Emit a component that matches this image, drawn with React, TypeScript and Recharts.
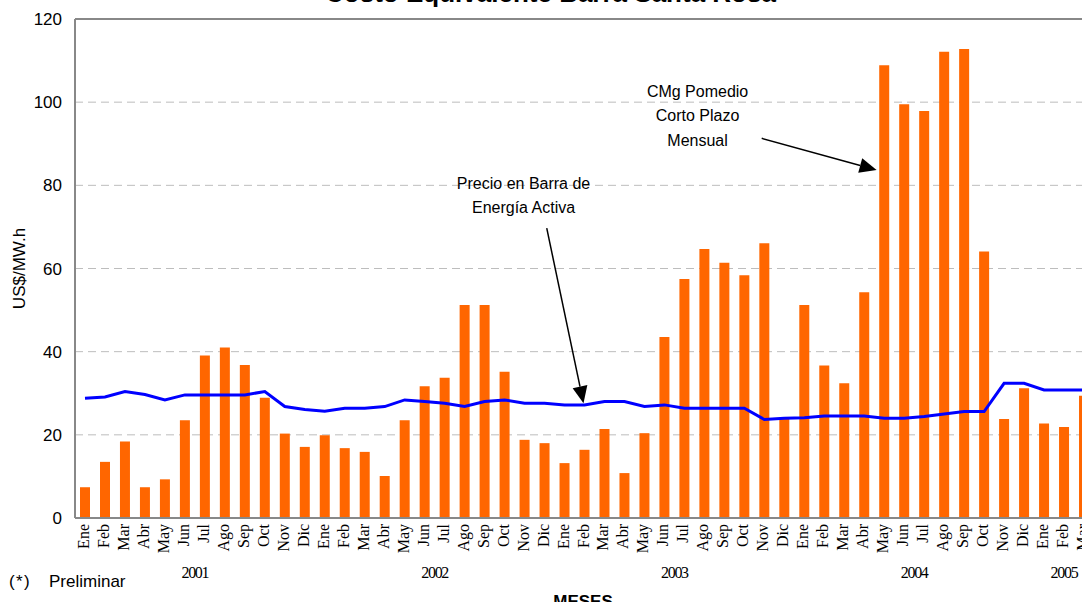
import React from 'react';
import {
  ComposedChart, Bar, Line, XAxis, YAxis, CartesianGrid, ReferenceLine, ReferenceDot,
} from 'recharts';

const months = ['Ene', 'Feb', 'Mar', 'Abr', 'May', 'Jun', 'Jul', 'Ago', 'Sep', 'Oct', 'Nov', 'Dic'];
const years = ['2001', '2002', '2003', '2004', '2005'];
const yearMonthCounts = [12, 12, 12, 12, 3];
const yTicks = [0, 20, 40, 60, 80, 100, 120];

// CMg Pomedio Corto Plazo Mensual (US$/MW.h)
const cmgValues = [
  7.4, 13.5, 18.4, 7.4, 9.3, 23.5, 39.1, 41.0, 36.8, 28.9, 20.3, 17.1,
  19.9, 16.8, 15.9, 10.1, 23.5, 31.7, 33.7, 51.2, 51.2, 35.2, 18.8, 18.0,
  13.2, 16.4, 21.4, 10.8, 20.4, 43.5, 57.5, 64.7, 61.4, 58.4, 66.1, 24.0,
  51.2, 36.7, 32.4, 54.3, 108.9, 99.5, 97.9, 112.1, 112.8, 64.1, 23.8, 31.2,
  22.7, 21.9, 29.4,
];

// Precio en Barra de Energía Activa (US$/MW.h)
const precioValues = [
  28.8, 29.1, 30.4, 29.7, 28.4, 29.6, 29.6, 29.6, 29.6, 30.4, 26.8, 26.1,
  25.7, 26.4, 26.4, 26.8, 28.4, 28.0, 27.6, 26.8, 28.0, 28.4, 27.6, 27.6,
  27.2, 27.2, 28.0, 28.0, 26.8, 27.2, 26.4, 26.4, 26.4, 26.4, 23.7, 24.0,
  24.1, 24.5, 24.5, 24.5, 24.0, 24.0, 24.4, 25.0, 25.6, 25.6, 32.4, 32.4,
  30.8, 30.8, 30.8,
];

const data = cmgValues.map((v, i) => ({
  key: `${months[i % 12]}-${years[Math.floor(i / 12)]}`,
  pos: i + 0.5,
  cmg: v,
  precio: precioValues[i],
}));

const yearTickPos: number[] = [];
{
  let start = 0;
  yearMonthCounts.forEach((c) => {
    yearTickPos.push(start + c / 2);
    start += c;
  });
}
const totalMonths = cmgValues.length;

const SANS = 'Arial, "Liberation Sans", sans-serif';
const SERIF = '"Times New Roman", "Liberation Serif", serif';

const MonthTick = (props: any) => {
  const { x, y, payload } = props;
  const label = String(payload.value).split('-')[0];
  return (
    <text
      transform={`translate(${x + 4},${y}) rotate(-90)`}
      textAnchor="end"
      fontFamily={SERIF}
      fontSize={16}
      fill="#000"
    >
      {label}
    </text>
  );
};

const YearTick = (props: any) => {
  const { x, y, index } = props;
  return (
    <text x={x} y={y + 20} textAnchor="middle" fontFamily={SERIF} fontSize={16} letterSpacing={-1.3} fill="#000">
      {years[index]}
    </text>
  );
};

const YLabel = (props: any) => {
  const { viewBox } = props;
  const cx = viewBox.x - 5;
  const cy = viewBox.y + viewBox.height / 2;
  return (
    <text transform={`translate(${cx},${cy}) rotate(-90)`} textAnchor="middle" fontFamily={SANS} fontSize={17} fill="#000">
      US$/MW.h
    </text>
  );
};

const textShape = (txt: string) => (p: any) => (
  <text x={p.cx} y={p.cy} textAnchor="middle" fontFamily={SANS} fontSize={16} fill="#000">
    {txt}
  </text>
);

const ArrowShape = (p: any) => {
  const { x1, y1, x2, y2 } = p;
  const dx = x2 - x1;
  const dy = y2 - y1;
  const len = Math.sqrt(dx * dx + dy * dy) || 1;
  const ux = dx / len;
  const uy = dy / len;
  const hl = 17;
  const hw = 7.5;
  const bx = x2 - ux * hl;
  const by = y2 - uy * hl;
  const px = -uy;
  const py = ux;
  return (
    <g>
      <line x1={x1} y1={y1} x2={bx} y2={by} stroke="#000" strokeWidth={1.5} />
      <polygon
        points={`${x2},${y2} ${bx + px * hw},${by + py * hw} ${bx - px * hw},${by - py * hw}`}
        fill="#000"
      />
    </g>
  );
};

export default function App() {
  return (
    <div
      style={{
        position: 'fixed', left: 0, top: 0, width: 1082, height: 602,
        overflow: 'hidden', background: '#fff',
      }}
    >
      <ComposedChart
        width={1100}
        height={602}
        data={data}
        margin={{ top: 19, right: 6, bottom: 14, left: 30 }}
        barSize={10}
      >
        <CartesianGrid horizontal vertical={false} stroke="#bdbdbd" strokeDasharray="8 5" />
        <XAxis
          dataKey="key"
          type="category"
          interval={0}
          tick={<MonthTick />}
          tickLine={false}
          tickSize={0}
          tickMargin={6}
          height={40}
          axisLine={{ stroke: '#888', strokeWidth: 2 }}
        />
        <XAxis
          xAxisId="yr"
          dataKey="pos"
          type="number"
          domain={[0, totalMonths]}
          ticks={yearTickPos}
          interval={0}
          allowDataOverflow
          tick={<YearTick />}
          tickLine={false}
          tickSize={0}
          tickMargin={0}
          axisLine={false}
          height={30}
        />
        <YAxis
          domain={[0, 120]}
          ticks={yTicks}
          interval={0}
          width={45}
          tickLine={false}
          tickSize={0}
          tickMargin={13}
          axisLine={{ stroke: '#888', strokeWidth: 2 }}
          tick={{ fill: '#000', fontSize: 17, fontFamily: SANS }}
          label={<YLabel />}
        />
        <ReferenceLine y={120} stroke="#888" strokeWidth={2} />
        <Bar dataKey="cmg" fill="#FF6600" isAnimationActive={false} />
        <Line
          dataKey="precio"
          type="linear"
          stroke="#0000FF"
          strokeWidth={3}
          dot={false}
          activeDot={false}
          isAnimationActive={false}
        />
        <ReferenceLine
          xAxisId="yr"
          segment={[{ x: 34.37, y: 91.3 }, { x: 40.12, y: 83.7 }]}
          shape={ArrowShape}
          ifOverflow="visible"
        />
        <ReferenceLine
          xAxisId="yr"
          segment={[{ x: 23.61, y: 69.7 }, { x: 25.45, y: 27.6 }]}
          shape={ArrowShape}
          ifOverflow="visible"
        />
        <ReferenceDot xAxisId="yr" x={31.16} y={101.3} r={0} ifOverflow="visible" shape={textShape('CMg Pomedio')} />
        <ReferenceDot xAxisId="yr" x={31.16} y={95.5} r={0} ifOverflow="visible" shape={textShape('Corto Plazo')} />
        <ReferenceDot xAxisId="yr" x={31.16} y={89.5} r={0} ifOverflow="visible" shape={textShape('Mensual')} />
        <ReferenceDot xAxisId="yr" x={22.45} y={79.1} r={0} ifOverflow="visible" shape={textShape('Precio en Barra de')} />
        <ReferenceDot xAxisId="yr" x={22.45} y={73.4} r={0} ifOverflow="visible" shape={textShape('Energía Activa')} />
        <text x={550.5} y={1.5} textAnchor="middle" fontFamily={SANS} fontWeight="bold" fontSize={26} fill="#000">
          Costo Equivalente Barra Santa Rosa
        </text>
        <text x={10} y={587} fontFamily={SANS} fontSize={17} fill="#000">
          <tspan x={9}>(</tspan>
          <tspan x={16}>*</tspan>
          <tspan x={24}>)</tspan>
          <tspan x={49}>Preliminar</tspan>
        </text>
        <text x={583} y={607} textAnchor="middle" fontFamily={SANS} fontWeight="bold" fontSize={17} fill="#000">
          MESES
        </text>
      </ComposedChart>
    </div>
  );
}
